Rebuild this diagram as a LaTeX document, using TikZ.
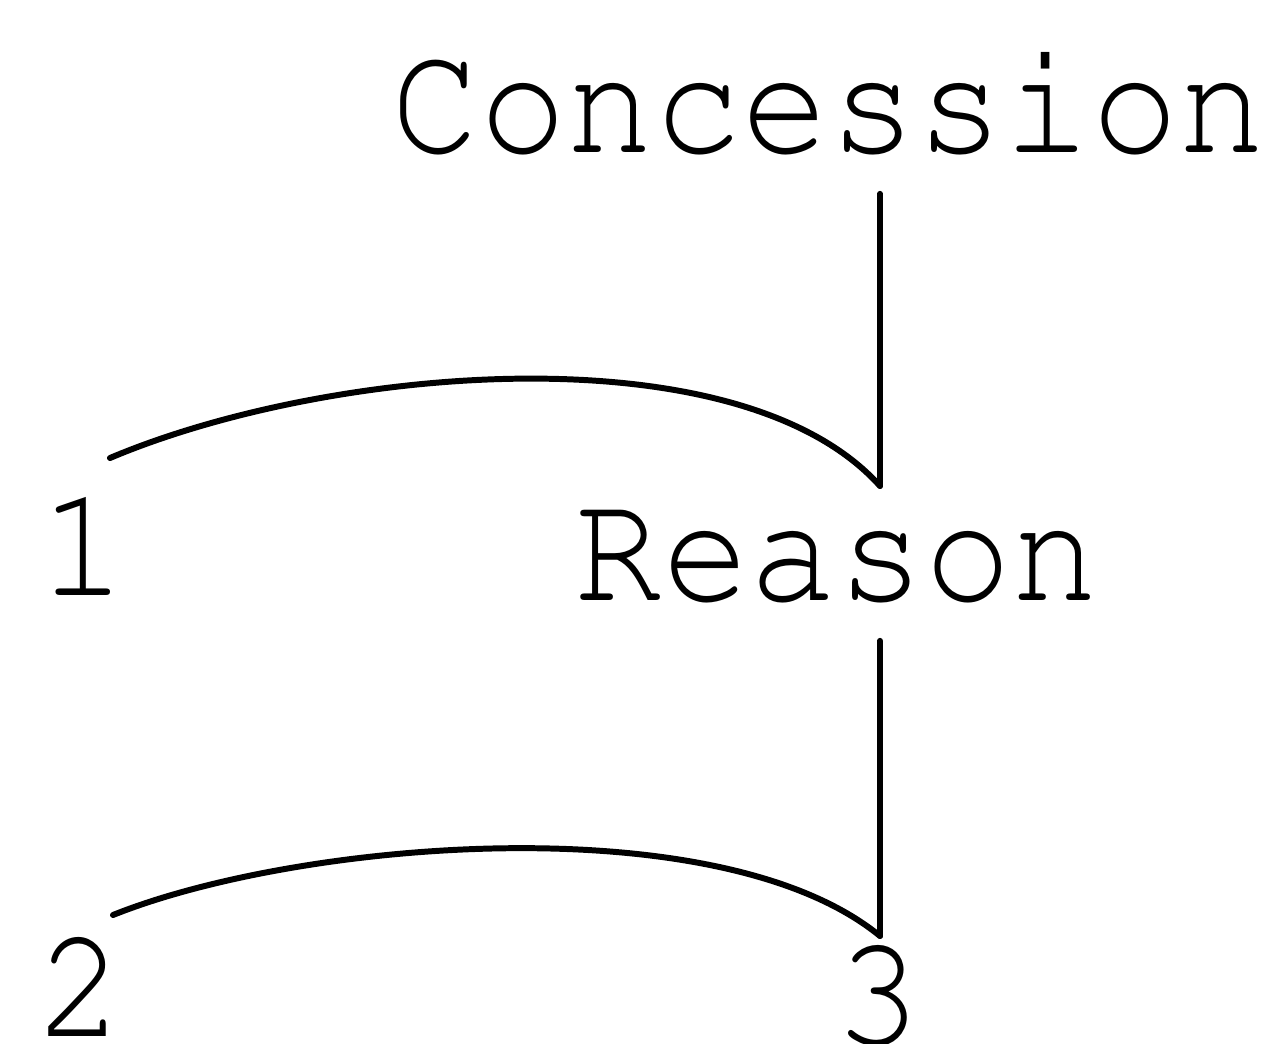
\documentclass[tikz,border=0pt]{standalone}
\usepackage[T1]{fontenc}
\usepackage{graphicx}
\usepackage{tikz}
\usetikzlibrary{calc}

\newcommand{\tallmono}[1]{\scalebox{1}[1.1]{#1}}

\tikzset{
  lbl/.style={font=\fontfamily{pcr}\fontsize{83}{90}\selectfont, inner xsep=0pt, inner ysep=0.76cm, anchor=base},
  link/.style={black, line width=3.4pt, line cap=round}
}

\begin{document}
\begin{tikzpicture}[x=0.02cm, y=-0.02cm]

\useasboundingbox (0,0) rectangle (1282,1044);

% relation and segment labels
\node[lbl] (con) at (829,153) {\tallmono{Concession}};
\node[lbl] (rea) at (837,600) {\tallmono{Reason}};
\node[lbl] (one) at (83,595) {\tallmono{1}};
\node[lbl] (two) at (80,1036) {\tallmono{2}};
\node[lbl] (three) at (878,1044) {\tallmono{3}};

% junctions at the foot of each vertical line
\coordinate (j1) at (880,486);
\coordinate (j2) at (880,936);
% free ends of the arcs
\coordinate (s1) at (110,458);
\coordinate (s2) at (113,915);

% Concession spans 1 and Reason
\draw[link] (con.south -| j1) -- (j1);
\draw[link] (s1) .. controls (330,365) and (740,330) .. (j1);

% Reason spans 2 and 3
\draw[link] (rea.south -| j2) -- (j2);
\draw[link] (s2) .. controls (300,840) and (720,805) .. (j2);

\end{tikzpicture}
\end{document}
